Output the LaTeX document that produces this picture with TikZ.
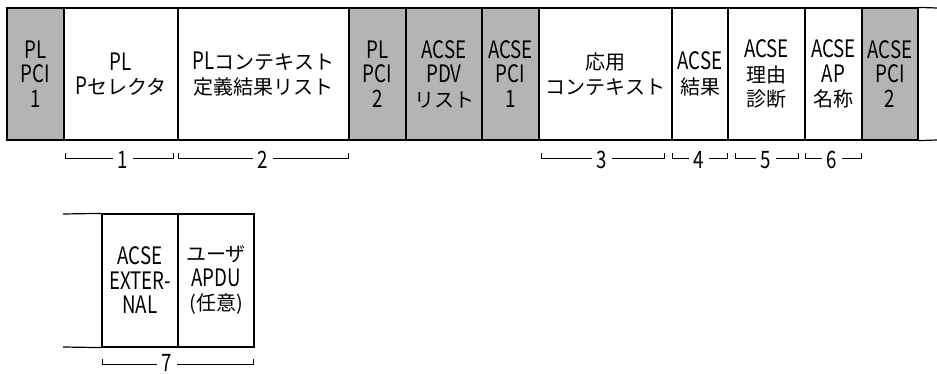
\documentclass[tikz,border=0pt]{standalone}
\usepackage{fontspec}
\setmainfont{Noto Sans CJK JP}
\newfontfamily\latfont{Noto Sans CJK JP}[FakeStretch=0.78]
\newcommand\Lt[1]{{\fontsize{24}{24.5}\latfont #1}}
\begin{document}
\begin{tikzpicture}[x=1pt,y=-1pt,
  cell/.style={draw=black, line width=1.2pt, inner sep=0pt, align=center,
    font=\fontsize{20}{24.5}\selectfont, minimum height=132pt},
  lowcell/.style={cell, minimum height=133pt},
  gcell/.style={cell, fill={rgb,255:red,180;green,180;blue,180}},
  brk/.style={draw=black, line width=0.9pt},
  blabel/.style={fill=white, inner xsep=5pt, inner ysep=0pt, text height=17pt,
    text depth=0pt, font=\fontsize{24}{24}\latfont}]
\useasboundingbox (0,0) rectangle (937,374);
% top row: boundaries 7,64,178,349,406,482,539,672,728,805,862,918
\node[gcell, minimum width=57pt] (c1) at (35.5,74) {\Lt{PL}\\\Lt{PCI}\\\Lt{1}};
\node[cell, minimum width=114pt] (c2) at (121,74) {\Lt{PL}\\\Lt{P}セレクタ};
\node[cell, minimum width=171pt] (c3) at (263.5,74) {\Lt{PL}コンテキスト\\定義結果リスト};
\node[gcell, minimum width=57pt] (c4) at (377.5,74) {\Lt{PL}\\\Lt{PCI}\\\Lt{2}};
\node[gcell, minimum width=76pt] (c5) at (444,74) {\Lt{ACSE}\\\Lt{PDV}\\リスト};
\node[gcell, minimum width=57pt] (c6) at (510.5,74) {\Lt{ACSE}\\\Lt{PCI}\\\Lt{1}};
\node[cell, minimum width=133pt] (c7) at (605.5,74) {応用\\コンテキスト};
\node[cell, minimum width=56pt] (c8) at (700,74) {\Lt{ACSE}\\結果};
\node[cell, minimum width=77pt] (c9) at (766.5,74) {\Lt{ACSE}\\理由\\診断};
\node[cell, minimum width=57pt] (c10) at (833.5,74) {\Lt{ACSE}\\\Lt{AP}\\名称};
\node[gcell, minimum width=56pt] (c11) at (890,74) {\Lt{ACSE}\\\Lt{PCI}\\\Lt{2}};
\coordinate (tend) at (937,8);
\coordinate (bend) at (937,140);
\draw[line width=1.2pt] (c11.north east) -- (tend);
\draw[line width=1.2pt] (c11.south east) -- (bend);
% brackets row 1
\coordinate (b1a) at (65,153); \coordinate (b1b) at (173,153);
\coordinate (b2a) at (178,153); \coordinate (b2b) at (348,153);
\coordinate (b3a) at (541,153); \coordinate (b3b) at (664,153);
\coordinate (b4a) at (672,153); \coordinate (b4b) at (727,153);
\coordinate (b5a) at (735,153); \coordinate (b5b) at (798,153);
\coordinate (b6a) at (805,153); \coordinate (b6b) at (861,153);
\foreach \i in {1,...,6}{
  \draw[brk] (b\i a) -- ++(0,5.5) -| (b\i b);
}
\node[blabel] (l1) at (123,160) {1};
\node[blabel] (l2) at (263,160) {2};
\node[blabel] (l3) at (602,160) {3};
\node[blabel] (l4) at (699,160) {4};
\node[blabel] (l5) at (766,160) {5};
\node[blabel] (l6) at (832,160) {6};
% bottom row
\node[lowcell, minimum width=76pt] (d1) at (140,280.5) {\Lt{ACSE}\\\Lt{EXTER-}\\\Lt{NAL}};
\node[lowcell, minimum width=76pt] (d2) at (216,280.5) {ユーザ\\\Lt{APDU}\\(任意)};
\coordinate (dts) at (63,214);
\coordinate (dbs) at (63,347);
\draw[line width=1.2pt] (dts) -- (d1.north west);
\draw[line width=1.2pt] (dbs) -- (d1.south west);
\coordinate (b7a) at (102,359); \coordinate (b7b) at (253,359);
\draw[brk] (b7a) -- ++(0,5.5) -| (b7b);
\node[blabel] (l7) at (167,363) {7};
\end{tikzpicture}
\end{document}
